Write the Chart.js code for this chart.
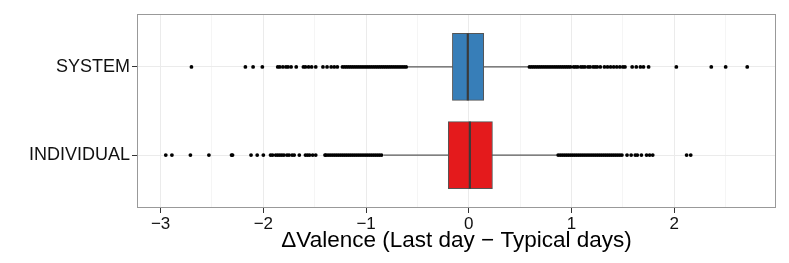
<!DOCTYPE html>
<html>
<head>
<meta charset="utf-8">
<script src="https://cdn.jsdelivr.net/npm/chart.js@4.4.0/dist/chart.umd.min.js"></script>
<style>
  html, body { margin: 0; padding: 0; background: #fff; }
  #wrap { width: 789px; height: 263px; }
</style>
</head>
<body>
<div id="wrap"><canvas id="grafico"></canvas></div>
<script>
// categorias (posição no eixo y: SYSTEM em cima)
const grupos = ['INDIVIDUAL', 'SYSTEM'];
const posGrupo = [1, 2];
const cores = ['#E41A1C', '#377EB8'];

// estatísticas do boxplot: [bigode inf, q1, mediana, q3, bigode sup]
const statsIndividual = [-0.83, -0.20, 0.01, 0.23, 0.865];
const statsSystem = [-0.60, -0.16, -0.01, 0.145, 0.58];

// outliers
const outIndividual = [
  -2.95, -2.89, -2.71, -2.53, -2.31, -2.30, -2.12, -2.06, -2.00,
  -1.93, -1.91, -1.88, -1.86, -1.84, -1.82, -1.80, -1.77, -1.75, -1.72, -1.70,
  -1.65, -1.59, -1.57, -1.55, -1.52, -1.49,
  -1.40, -1.39, -1.37, -1.35, -1.33, -1.31, -1.29, -1.27, -1.25, -1.23, -1.21, -1.19,
  -1.17, -1.15, -1.13, -1.11, -1.09, -1.07, -1.05, -1.03, -1.01, -0.99, -0.97,
  -0.95, -0.93, -0.91, -0.89, -0.87, -0.85,
  0.87, 0.89, 0.91, 0.93, 0.95, 0.97, 0.99, 1.01, 1.03, 1.05, 1.07, 1.09, 1.11,
  1.13, 1.15, 1.17, 1.19, 1.21, 1.23, 1.25, 1.27, 1.29, 1.31, 1.33, 1.35, 1.37,
  1.39, 1.41, 1.43, 1.45, 1.47, 1.49,
  1.54, 1.58, 1.62, 1.64, 1.68, 1.73, 1.76, 1.79, 2.12, 2.16
];
const outSystem = [
  -2.70, -2.175, -2.10, -2.01,
  -1.86, -1.84, -1.81, -1.78, -1.76, -1.73, -1.68,
  -1.61, -1.59, -1.56, -1.53, -1.49, -1.42, -1.38, -1.34, -1.31, -1.28,
  -1.23, -1.21, -1.19, -1.17, -1.15, -1.13, -1.11, -1.09, -1.07, -1.05, -1.03,
  -1.01, -0.99, -0.97, -0.95, -0.93, -0.91, -0.89, -0.87, -0.85, -0.83, -0.81,
  -0.79, -0.77, -0.75, -0.73, -0.71, -0.69, -0.67, -0.65, -0.63, -0.61,
  0.59, 0.61, 0.63, 0.65, 0.67, 0.69, 0.71, 0.73, 0.75, 0.77, 0.79, 0.81, 0.83,
  0.85, 0.87, 0.89, 0.91, 0.93, 0.95, 0.97, 0.99,
  1.02, 1.04, 1.06, 1.09, 1.11, 1.13, 1.16, 1.18, 1.21, 1.23, 1.25,
  1.28, 1.32, 1.35, 1.38, 1.41, 1.44, 1.47, 1.50, 1.52,
  1.59, 1.63, 1.67, 1.70, 1.75, 2.02, 2.36, 2.50, 2.71
];

// ticks do eixo x
const xTicks = [-3, -2, -1, 0, 1, 2];
const xGrid = [-3, -2.5, -2, -1.5, -1, -0.5, 0, 0.5, 1, 1.5, 2, 2.5];
const xMin = -3.23, xMax = 2.99;

const meiaCaixa = 0.38;
const fonte = '"Liberation Sans", Arial, sans-serif';

const todasStats = [statsIndividual, statsSystem];
const todosOut = [outIndividual, outSystem];

const datasets = [];
// caixas (um só dataset, sem agrupamento)
datasets.push({
  type: 'bar', order: 2, indexAxis: 'y', xAxisID: 'x', yAxisID: 'y', grouped: false,
  data: todasStats.map((s, i) => ({ y: posGrupo[i], x: [s[1], s[3]] })),
  backgroundColor: cores, borderColor: '#555', borderWidth: 1,
  borderSkipped: false, barThickness: 67
});
todasStats.forEach((s, i) => {
  const y = posGrupo[i];
  // bigodes
  datasets.push({
    type: 'line', order: 3, xAxisID: 'x', yAxisID: 'y',
    data: [{ x: s[0], y: y }, { x: s[4], y: y }],
    borderColor: '#333', borderWidth: 1, pointRadius: 0
  });
  // mediana
  datasets.push({
    type: 'line', order: 1, xAxisID: 'x', yAxisID: 'y',
    data: [{ x: s[2], y: y - meiaCaixa }, { x: s[2], y: y + meiaCaixa }],
    borderColor: '#3a3a3a', borderWidth: 2.2, pointRadius: 0
  });
  // outliers
  datasets.push({
    type: 'scatter', order: 0, xAxisID: 'x', yAxisID: 'y',
    data: todosOut[i].map(v => ({ x: v, y: y })),
    backgroundColor: '#000', borderWidth: 0, pointRadius: 1.9
  });
});

const moldura = {
  id: 'moldura',
  afterDraw(chart) {
    const a = chart.chartArea, ctx = chart.ctx;
    ctx.save();
    ctx.strokeStyle = '#999';
    ctx.lineWidth = 1;
    ctx.strokeRect(a.left + 0.5, a.top + 0.5, a.right - a.left - 1, a.bottom - a.top - 1);
    ctx.restore();
  }
};

new Chart(document.getElementById('grafico'), {
  type: 'scatter',
  data: { datasets },
  options: {
    responsive: true, maintainAspectRatio: false, animation: false,
    layout: { padding: { left: 0, right: 13, top: 14, bottom: 0 } },
    plugins: { legend: { display: false }, tooltip: { enabled: false } },
    scales: {
      x: {
        type: 'linear', position: 'bottom', min: xMin, max: xMax, offset: false,
        afterBuildTicks: sc => { sc.ticks = xGrid.map(v => ({ value: v })); },
        afterFit: sc => { sc.height = 55; },
        border: { display: false },
        grid: {
          offset: false,
          color: c => (xTicks.includes(c.tick.value) ? '#ebebeb' : '#f5f5f5'),
          tickColor: c => (xTicks.includes(c.tick.value) ? '#333' : 'rgba(0,0,0,0)'),
          tickLength: 5
        },
        ticks: {
          autoSkip: false, maxRotation: 0, padding: 1,
          color: '#111', font: { family: fonte, size: 17 },
          callback: v => (xTicks.includes(v) ? (v < 0 ? '\u2212' + Math.abs(v) : String(v)) : '')
        },
        title: {
          display: true, text: '\u0394Valence (Last day \u2212 Typical days)',
          color: '#000', font: { family: fonte, size: 22.5 }, padding: { top: 0, bottom: 9 }
        }
      },
      y: {
        type: 'linear', position: 'left', reverse: false, min: 0.4, max: 2.6, offset: false,
        afterBuildTicks: sc => { sc.ticks = posGrupo.map(v => ({ value: v })); },
        afterFit: sc => { sc.width = 137; },
        border: { display: false },
        grid: { offset: false, color: '#ebebeb', tickColor: '#333', tickLength: 5 },
        ticks: {
          padding: 2, color: '#111', font: { family: fonte, size: 18 },
          callback: v => grupos[posGrupo.indexOf(v)] || ''
        }
      }
    }
  },
  plugins: [moldura]
});
</script>
</body>
</html>
